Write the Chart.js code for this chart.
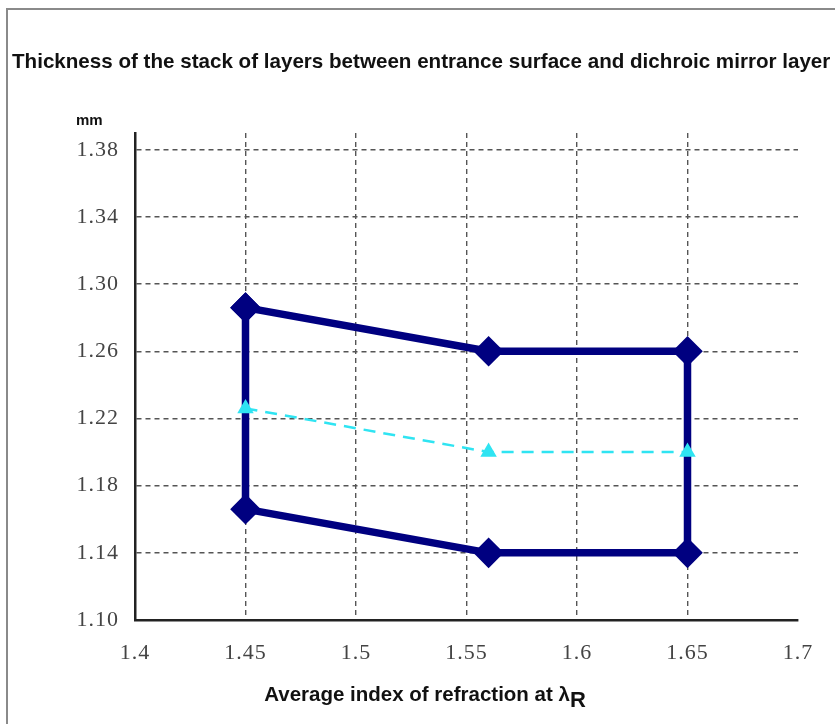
<!DOCTYPE html>
<html>
<head>
<meta charset="utf-8">
<script src="https://cdn.jsdelivr.net/npm/chart.js@4/dist/chart.umd.min.js"></script>
<style>
  html, body { margin: 0; padding: 0; background: #fff; overflow: hidden; }
  #wrap { position: relative; width: 835px; height: 724px; }
  #frame { position: absolute; left: 6px; top: 8px; right: -10px; bottom: -10px;
           border-left: 2px solid #8a8a8a; border-top: 2px solid #8a8a8a; }
  canvas { position: absolute; left: 0; top: 0; }
</style>
</head>
<body>
<div id="wrap">
  <div id="frame"></div>
  <canvas id="chart" width="835" height="724"></canvas>
</div>
<script>
// outer envelope (closed loop) and the centre line
const outerX = [1.45, 1.56, 1.65, 1.65, 1.56, 1.45, 1.45];
const outerY = [1.286, 1.26, 1.26, 1.14, 1.14, 1.166, 1.286];
const midX = [1.45, 1.56, 1.65];
const midY = [1.226, 1.20, 1.20];

const xTicks = [1.4, 1.45, 1.5, 1.55, 1.6, 1.65, 1.7];
const yTicks = [1.10, 1.14, 1.18, 1.22, 1.26, 1.30, 1.34, 1.38];

const titleText = 'Thickness of the stack of layers between entrance surface and dichroic mirror layer';

function toPoints(xs, ys) {
    return xs.map((x, i) => ({ x: x, y: ys[i] }));
}

// texts that sit outside the normal chart slots
const textPlugin = {
    id: 'texts',
    beforeDraw(chart) {
        chart.ctx.letterSpacing = '1px'; // the serif tick labels are spaced wide
    },
    afterDraw(chart) {
        const ctx = chart.ctx;
        ctx.save();
        ctx.letterSpacing = '0px';
        ctx.fillStyle = '#111';
        ctx.textBaseline = 'middle';

        ctx.font = 'bold 20.6px "Liberation Sans", Arial, sans-serif';
        ctx.textAlign = 'left';
        ctx.fillText(titleText, 12, 62);

        ctx.font = 'bold 15px "Liberation Sans", Arial, sans-serif';
        ctx.fillText('mm', 76, 121);

        // x axis title with subscript R
        const main = 'Average index of refraction at \u03bb';
        ctx.font = 'bold 20.5px "Liberation Sans", Arial, sans-serif';
        const w1 = ctx.measureText(main).width;
        ctx.font = 'bold 22px "Liberation Sans", Arial, sans-serif';
        const w2 = ctx.measureText('R').width;
        const start = 425 - (w1 + w2) / 2;
        ctx.font = 'bold 20.5px "Liberation Sans", Arial, sans-serif';
        ctx.fillText(main, start, 695);
        ctx.font = 'bold 22px "Liberation Sans", Arial, sans-serif';
        ctx.fillText('R', start + w1, 701);
        ctx.restore();
    }
};

const tickFont = { family: '"Liberation Serif", "Times New Roman", serif', size: 22 };

const ctx = document.getElementById('chart').getContext('2d');
new Chart(ctx, {
    type: 'scatter',
    data: {
        datasets: [
            {
                data: toPoints(outerX, outerY),
                showLine: true,
                borderColor: '#000080',
                backgroundColor: '#000080',
                borderWidth: 7.5,
                pointStyle: 'rectRot',
                pointRadius: 10,
                pointHoverRadius: 10,
                borderJoinStyle: 'round',
                order: 2
            },
            {
                data: toPoints(midX, midY),
                showLine: true,
                borderColor: '#2fe4f2',
                backgroundColor: '#2fe4f2',
                borderWidth: 2.5,
                borderDash: [12, 8],
                pointStyle: 'triangle',
                pointRadius: 7,
                pointHoverRadius: 7,
                order: 1
            }
        ]
    },
    options: {
        responsive: false,
        animation: false,
        events: [],
        layout: { padding: { top: 133, right: 37, left: 0, bottom: 0 } },
        plugins: {
            legend: { display: false },
            tooltip: { enabled: false }
        },
        scales: {
            x: {
                type: 'linear',
                min: 1.4,
                max: 1.7,
                afterBuildTicks: (scale) => { scale.ticks = xTicks.map(v => ({ value: v })); },
                afterFit: (scale) => { scale.height = 104; },
                border: { display: true, color: '#222', width: 2.5, dash: [5, 4] },
                grid: {
                    drawTicks: false,
                    color: (c) => (c.tick && (c.tick.value === 1.4 || c.tick.value === 1.7)) ? 'rgba(0,0,0,0)' : '#555',
                    lineWidth: 1.4
                },
                ticks: {
                    padding: 20,
                    color: '#444',
                    font: tickFont,
                    callback: (v) => String(Math.round(v * 100) / 100)
                }
            },
            y: {
                type: 'linear',
                min: 1.10,
                max: 1.39,
                afterBuildTicks: (scale) => { scale.ticks = yTicks.map(v => ({ value: v })); },
                afterFit: (scale) => { scale.width = 135; },
                border: { display: true, color: '#222', width: 2.5, dash: [5, 4] },
                grid: {
                    drawTicks: false,
                    color: (c) => (c.tick && c.tick.value === 1.10) ? 'rgba(0,0,0,0)' : '#555',
                    lineWidth: 1.4
                },
                ticks: {
                    padding: 16,
                    color: '#444',
                    font: tickFont,
                    callback: (v) => v.toFixed(2)
                }
            }
        }
    },
    plugins: [textPlugin]
});
</script>
</body>
</html>
